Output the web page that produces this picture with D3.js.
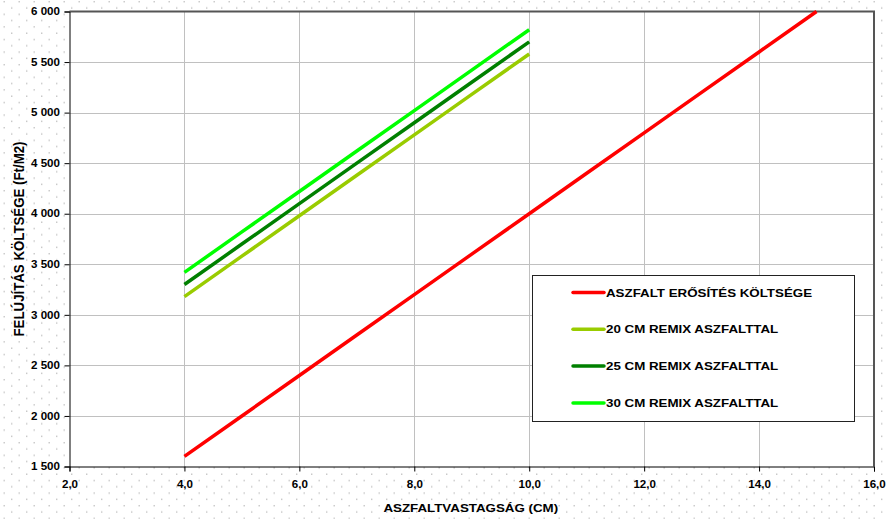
<!DOCTYPE html>
<html>
<head>
<meta charset="utf-8">
<script src="https://cdn.jsdelivr.net/npm/d3@7"></script>
<style>
  body { margin: 0; background: #fff; }
  svg text { font-family: "Liberation Sans", Arial, sans-serif; font-weight: bold; fill: #000; }
</style>
</head>
<body>
<script>
// data
const thickness = [4, 5, 6, 7, 8, 9, 10, 11, 12, 13, 14, 15];
const costReinforce = [1600, 2000, 2400, 2800, 3200, 3600, 4000, 4400, 4800, 5200, 5600, 6000];
const remixThickness = [4, 5, 6, 7, 8, 9, 10];
const cost20 = [3180, 3580, 3980, 4380, 4780, 5180, 5580];
const cost25 = [3300, 3700, 4100, 4500, 4900, 5300, 5700];
const cost30 = [3420, 3820, 4220, 4620, 5020, 5420, 5820];
const seriesNames = ['ASZFALT ERŐSÍTÉS KÖLTSÉGE', '20 CM REMIX ASZFALTTAL', '25 CM REMIX ASZFALTTAL', '30 CM REMIX ASZFALTTAL'];
const seriesColors = ['#ff0000', '#99cc00', '#008000', '#00ff00'];
const xTicks = [2, 4, 6, 8, 10, 12, 14, 16];
const yTicks = [1500, 2000, 2500, 3000, 3500, 4000, 4500, 5000, 5500, 6000];

const W = 888, H = 519;
const pLeft = 69.5, pRight = 874, pTop = 11.5, pBottom = 466.5;
const stretch = 1.16; // the original picture is a bit wider than tall

let svg = d3.select('body').append('svg')
    .attr('width', W)
    .attr('height', H)

// dotted background
let defs = svg.append('defs')
let pat = defs.append('pattern')
    .attr('id', 'dots')
    .attr('patternUnits', 'userSpaceOnUse')
    .attr('width', 15)
    .attr('height', 12.6)
pat.append('rect').attr('x', 3.5).attr('y', 1).attr('width', 1.4).attr('height', 1.4).attr('fill', '#c4c4c4')
pat.append('rect').attr('x', 11).attr('y', 7.3).attr('width', 1.4).attr('height', 1.4).attr('fill', '#c4c4c4')
svg.append('rect').attr('width', W).attr('height', H).attr('fill', 'url(#dots)')

let xScale = d3.scaleLinear().domain([2, 16]).range([pLeft, pRight])
let yScale = d3.scaleLinear().domain([1500, 6000]).range([pBottom, pTop])

// plot area
svg.append('rect')
    .attr('x', pLeft).attr('y', pTop)
    .attr('width', pRight - pLeft).attr('height', pBottom - pTop)
    .attr('fill', '#fff')

// grid
svg.append('g').selectAll('line')
    .data(xTicks.slice(1, -1))
    .enter().append('line')
    .attr('x1', d => Math.round(xScale(d)) + 0.5).attr('x2', d => Math.round(xScale(d)) + 0.5)
    .attr('y1', pTop).attr('y2', pBottom)
    .attr('stroke', '#c0c0c0')
svg.append('g').selectAll('line')
    .data(yTicks.slice(1, -1))
    .enter().append('line')
    .attr('y1', d => Math.round(yScale(d)) + 0.5).attr('y2', d => Math.round(yScale(d)) + 0.5)
    .attr('x1', pLeft).attr('x2', pRight)
    .attr('stroke', '#c0c0c0')

// plot border (top and right)
svg.append('path')
    .attr('d', `M${pLeft},${pTop}H${pRight}V${pBottom}`)
    .attr('fill', 'none')
    .attr('stroke', '#555')
    .attr('stroke-width', 2)

// axes
let xAxis = d3.axisBottom(xScale)
    .tickValues(xTicks)
    .tickSize(5)
    .tickFormat(d => d3.format('.1f')(d).replace('.', ','))
svg.append('g')
    .attr('transform', `translate(0,${pBottom})`)
    .call(xAxis)
    .call(g => g.selectAll('text')
        .attr('y', 21.5).attr('dy', 0)
        .attr('transform', `scale(${stretch},1)`)
        .style('font-size', '10px'))

let yAxis = d3.axisLeft(yScale)
    .tickValues(yTicks)
    .tickSize(5)
    .tickFormat(d => d3.format(',')(d).replace(',', ' '))
svg.append('g')
    .attr('transform', `translate(${pLeft},0)`)
    .call(yAxis)
    .call(g => g.selectAll('text')
        .attr('x', -9.5 / stretch)
        .attr('transform', `scale(${stretch},1)`)
        .style('font-size', '10px'))

svg.selectAll('.domain').attr('stroke', '#000')
svg.selectAll('.tick line').attr('stroke', '#000')

// axis titles
svg.append('text')
    .attr('transform', `translate(${(pLeft + pRight) / 2 - 1},511.5) scale(${stretch},1)`)
    .attr('text-anchor', 'middle')
    .style('font-size', '11.5px')
    .text('ASZFALTVASTAGSÁG (CM)')
svg.append('text')
    .attr('transform', 'translate(24,239) scale(1.3,1) rotate(-90)')
    .attr('x', -97.5)
    .attr('textLength', 195)
    .attr('lengthAdjust', 'spacingAndGlyphs')
    .style('font-size', '11.5px')
    .text('FELÚJÍTÁS KÖLTSÉGE (Ft/M2)')

// lines
let line = d3.line()
    .x(d => xScale(d[0]))
    .y(d => yScale(d[1]))

let series = [
    d3.zip(thickness, costReinforce),
    d3.zip(remixThickness, cost20),
    d3.zip(remixThickness, cost25),
    d3.zip(remixThickness, cost30)
]

svg.append('g').selectAll('path')
    .data(series)
    .enter().append('path')
    .attr('d', line)
    .attr('fill', 'none')
    .attr('stroke', (d, i) => seriesColors[i])
    .attr('stroke-width', 3.5)

// legend
let lg = svg.append('g').attr('transform', 'translate(532,275)')
lg.append('rect')
    .attr('x', 0.5).attr('y', 0.5)
    .attr('width', 322).attr('height', 146)
    .attr('fill', '#fff')
    .attr('stroke', '#222')

let items = lg.selectAll('.item')
    .data(seriesNames)
    .enter().append('g')
    .attr('transform', (d, i) => `translate(0,${17.5 + i * 36.8})`)
items.append('line')
    .attr('x1', 41).attr('x2', 72)
    .attr('stroke', (d, i) => seriesColors[i])
    .attr('stroke-width', 3.5)
    .attr('stroke-linecap', 'round')
items.append('text')
    .attr('transform', `translate(74,0) scale(${stretch},1)`)
    .attr('dy', '0.36em')
    .style('font-size', '11.5px')
    .text(d => d)
</script>
</body>
</html>
